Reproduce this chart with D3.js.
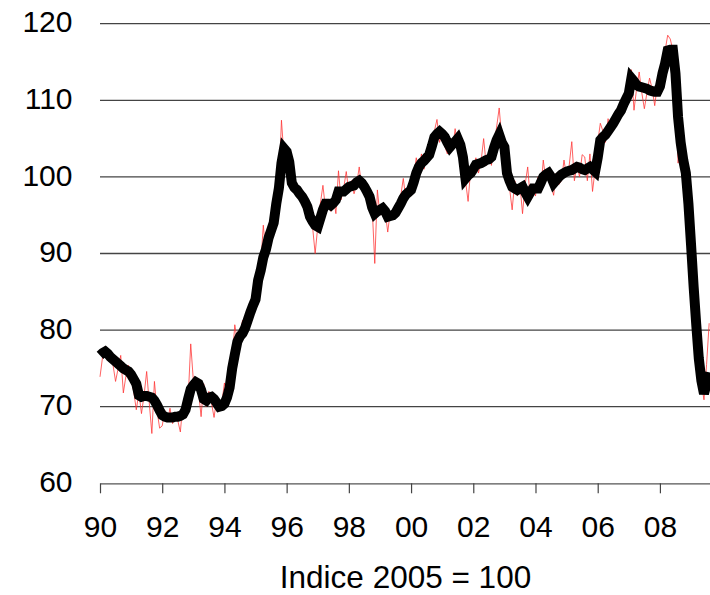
<!DOCTYPE html>
<html><head><meta charset="utf-8">
<script src="https://cdn.jsdelivr.net/npm/d3@7"></script>
<style>
body{margin:0;background:#fff;}
svg text{font-family:"Liberation Sans",Arial,sans-serif;fill:#000;}
</style>
</head><body>
<svg id="chart" width="710" height="595"></svg>
<script>
// ---- data (monthly, Jan 1990 .. Aug 2009) ----
const startYear = 1990;
const monthlyIndex = [
  73.9,76.5,77.9,77.2,76.0,75.5,73.3,75.0,76.7,71.8,74.0,75.4,   // 1990
  73.5,72.0,69.6,71.8,69.1,71.5,74.6,70.5,66.5,73.3,69.5,67.2,   // 1991
  67.5,69.5,68.0,69.8,67.8,69.0,68.2,66.7,70.5,68.5,71.0,78.2,   // 1992
  73.5,72.5,72.0,68.7,73.0,70.0,72.0,70.5,68.6,71.0,69.5,70.5,   // 1993
  73.1,71.0,73.0,76.0,80.7,78.5,79.5,81.3,80.0,81.8,82.5,83.5,   // 1994
  85.0,86.0,88.5,93.7,90.0,92.5,93.5,94.5,96.5,99.0,107.4,102.5, // 1995
  104.0,100.5,98.5,99.2,97.5,98.5,96.5,97.8,95.5,95.0,93.5,90.0, // 1996
  93.5,96.5,98.9,95.8,97.0,95.5,97.5,95.2,100.8,97.0,98.5,100.7, // 1997
  98.0,99.5,97.8,99.0,101.3,98.5,99.0,97.0,98.5,96.0,88.7,98.3,  // 1998
  95.0,96.5,95.5,92.8,95.5,94.5,96.0,95.5,97.5,99.8,97.0,98.5,   // 1999
  97.5,100.0,102.5,100.5,103.0,101.0,103.5,102.0,104.5,106.0,107.5,104.5, // 2000
  106.0,104.0,103.0,104.5,103.5,106.3,104.0,105.5,101.0,99.5,96.8,101.0,  // 2001
  100.0,102.5,100.5,102.0,105.0,101.5,103.0,101.5,104.0,106.5,109.0,105.0,// 2002
  104.5,99.5,98.5,95.7,99.5,97.5,99.0,95.2,99.0,101.3,97.0,99.0,          // 2003
  97.5,100.0,98.0,102.2,99.5,101.0,99.0,97.6,100.5,99.0,99.5,102.2,       // 2004
  100.0,101.5,104.6,99.5,101.5,100.0,102.9,102.6,99.5,103.0,98.1,101.0,   // 2005
  104.5,107.0,106.0,104.5,107.6,106.0,107.5,108.0,107.8,109.0,110.0,111.0,// 2006
  112.0,114.0,108.7,111.5,113.7,111.0,108.9,111.0,112.9,111.5,109.3,112.0,// 2007
  112.0,114.0,116.5,118.5,118.0,116.5,110.0,101.8,104.5,101.5,100.0,95.0, // 2008
  90.0,85.0,80.0,75.5,73.0,70.9,75.5,80.9                                 // 2009
];
const trendIndex = [
  76.7,77.0,77.2,76.9,76.5,76.2,75.9,75.6,75.3,75.0,74.8,74.6,   // 1990
  74.2,73.6,73.0,71.5,71.3,71.4,71.4,71.3,71.2,70.8,70.2,69.5,   // 1991
  68.9,68.7,68.6,68.6,68.6,68.7,68.7,68.8,69.0,69.6,71.0,72.3,   // 1992
  72.8,73.2,73.0,72.2,71.0,70.8,71.2,71.3,71.0,70.5,70.0,70.1,   // 1993
  70.4,71.2,72.5,75.0,76.8,78.5,79.2,79.6,80.3,81.3,82.3,83.2,   // 1994
  84.0,86.5,87.8,89.5,90.5,92.0,93.0,94.0,96.5,98.5,101.8,103.7, // 1995
  103.3,102.0,99.2,98.6,98.3,97.8,97.4,96.8,96.1,94.8,94.2,93.7, // 1996
  93.5,94.6,95.7,96.5,96.5,96.3,96.6,97.0,98.1,98.1,98.1,98.4,   // 1997
  98.7,98.8,98.9,99.3,99.5,99.2,98.7,98.1,97.4,96.0,95.2,95.5,   // 1998
  95.7,95.9,95.5,94.8,94.9,95.0,95.3,95.9,96.5,97.2,97.7,98.0,   // 1999
  98.3,99.3,100.5,101.3,101.8,102.1,102.5,102.9,104.0,105.2,105.6,105.9, // 2000
  105.6,105.2,104.5,103.9,104.3,104.6,105.0,104.2,102.6,99.8,100.2,100.5, // 2001
  101.0,101.6,101.7,101.8,102.0,102.2,102.3,102.6,103.8,104.8,105.5,104.5,// 2002
  103.9,100.5,99.5,98.7,98.5,98.3,98.5,98.7,98.0,97.4,98.0,98.5,          // 2003
  98.5,98.5,99.2,100.0,100.3,100.5,100.0,99.2,99.6,100.0,100.3,100.5,     // 2004
  100.7,100.8,100.9,101.1,101.3,101.2,101.0,100.9,101.1,101.3,101.0,100.7,// 2005
  102.5,104.8,105.2,105.5,106.0,106.5,107.0,107.6,108.2,108.7,109.5,110.2,// 2006
  110.9,112.9,112.5,112.0,111.8,111.7,111.6,111.5,111.3,111.2,111.1,111.1,// 2007
  111.8,113.5,114.8,116.5,116.6,116.6,113.5,107.8,104.5,102.2,100.5,96.5, // 2008
  91.2,85.7,80.8,76.3,73.4,71.7,73.0,74.5                                 // 2009
];
const xTickYears = [1990,1992,1994,1996,1998,2000,2002,2004,2006,2008];
const xTickLabels = ["90","92","94","96","98","00","02","04","06","08"];
const yTicks = [60,70,80,90,100,110,120];
const gridValues = [70,80,90,100,110,120];
const axisTitle = "Indice 2005 = 100";

// ---- layout ----
const svg = d3.select("#chart");
const plotLeft = 100, plotRight = 710, plotTop = 23.7, plotBottom = 483.3;
const x = d3.scaleLinear().domain([1990, 2009.61]).range([plotLeft, plotRight]);
const y = d3.scaleLinear().domain([60, 120]).range([plotBottom, plotTop]);
const monthDate = i => startYear + i / 12;

// gridlines
svg.append("g").selectAll("line").data(gridValues).join("line")
  .attr("x1", plotLeft).attr("x2", plotRight)
  .attr("y1", d => y(d)).attr("y2", d => y(d))
  .attr("stroke", "#444").attr("stroke-width", 1.3);

// y labels
svg.append("g").selectAll("text").data(yTicks).join("text")
  .attr("x", 72.5).attr("y", d => y(d) + 8.7)
  .attr("text-anchor", "end").attr("font-size", 30)
  .text(d => d);

// x axis
const xAxis = d3.axisBottom(x)
  .tickValues(xTickYears)
  .tickFormat((d, i) => xTickLabels[i])
  .tickSize(10).tickSizeOuter(0).tickPadding(20);
const gx = svg.append("g").attr("transform", `translate(0,${plotBottom})`).call(xAxis);
gx.select(".domain").attr("stroke", "#555").attr("stroke-width", 1.3);
gx.selectAll(".tick line").attr("stroke", "#444").attr("stroke-width", 1.2);
gx.selectAll(".tick text").attr("font-size", 30)
  .attr("font-family", "Liberation Sans, Arial, sans-serif")
  .attr("dy", null).attr("y", 53.5);

// series
const lineGen = d3.line().x((d, i) => x(monthDate(i))).y(d => y(d));
svg.append("path").datum(monthlyIndex)
  .attr("d", lineGen).attr("fill", "none")
  .attr("stroke", "#ff3030").attr("stroke-width", 0.9).attr("stroke-opacity", 0.85);
svg.append("path").datum(trendIndex)
  .attr("d", lineGen).attr("fill", "none")
  .attr("stroke", "#000").attr("stroke-width", 10)
  .attr("stroke-linejoin", "miter").attr("stroke-linecap", "butt");

// axis title
svg.append("text").attr("x", 405.5).attr("y", 588)
  .attr("text-anchor", "middle").attr("font-size", 31.5)
  .text(axisTitle);
</script>
</body></html>
